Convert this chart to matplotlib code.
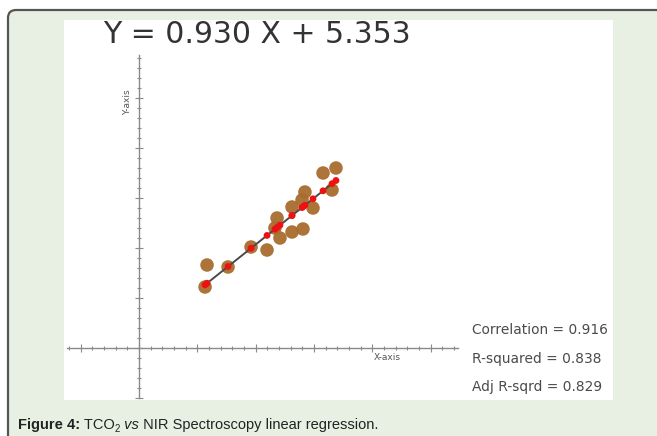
import numpy as np
import matplotlib
matplotlib.use("Agg")
import matplotlib.pyplot as plt
from matplotlib.patches import FancyBboxPatch

# measured points (x = NIR, y = TCO2)
x_vals = [15.66, 15.83, 17.63, 19.60, 20.97, 21.83, 21.65, 22.08, 23.11,
          23.11, 24.05, 24.22, 23.97, 24.91, 25.77, 26.88, 26.54]
y_vals = [19.7, 21.9, 21.7, 23.7, 23.4, 26.6, 25.6, 24.6, 25.2,
          27.7, 25.5, 29.2, 28.4, 27.6, 31.1, 31.6, 29.4]
slope = 0.930
intercept = 5.353
stats_labels = ["Correlation = 0.916", "R-squared = 0.838", "Adj R-sqrd = 0.829"]
# (text, weight, style, subscript?)
caption_parts = [("Figure 4:", "bold", "normal", False),
                 (" TCO", "normal", "normal", False),
                 ("2", "normal", "normal", True),
                 (" vs", "normal", "italic", False),
                 (" NIR Spectroscopy linear regression.", "normal", "normal", False)]

W, H = 657, 436
fig = plt.figure(figsize=(W / 100, H / 100), dpi=100)
fig.patch.set_facecolor("white")


def fx(px):
    return px / W


def fy(py):
    return 1 - py / H


# background frame in pixel coords
bg = fig.add_axes([0, 0, 1, 1])
bg.set_xlim(0, W)
bg.set_ylim(H, 0)
bg.axis("off")
bg.add_patch(FancyBboxPatch((8, 10), 700, 500, boxstyle="round,pad=0,rounding_size=8",
                            facecolor="#e7f0e3", edgecolor="#555555", lw=1.6))

# chart panel
x0, y0 = 10.0, 13.6          # where the drawn axes cross
xs, ys = 11.67, 10.0         # pixels per unit
ax = fig.add_axes([fx(64), fy(400), fx(613) - fx(64), (400 - 20) / H])
ax.set_facecolor("white")
ax.set_xlim(x0 + (64 - 139) / xs, x0 + (613 - 139) / xs)
ax.set_ylim(y0 - (400 - 348) / ys, y0 + (348 - 20) / ys)

for s in ["top", "right"]:
    ax.spines[s].set_visible(False)
ax.spines["left"].set_position(("data", x0))
ax.spines["bottom"].set_position(("data", y0))
ax.spines["left"].set_bounds(y0 - 5.0, y0 + 29.3)
ax.spines["bottom"].set_bounds(x0 - 6.2, x0 + 27.3)
for s in ["left", "bottom"]:
    ax.spines[s].set_color("#8a8a8a")
    ax.spines[s].set_linewidth(1.0)

ax.set_xticks([x0 + k for k in range(-5, 26, 5)])
ax.set_xticks([x0 + k for k in range(-6, 28)], minor=True)
ax.set_yticks([y0 + k for k in range(-5, 30, 5)])
ax.set_yticks([y0 + k for k in range(-5, 30)], minor=True)
ax.tick_params(which="both", direction="inout", colors="#8a8a8a",
               labelbottom=False, labelleft=False, width=0.8)
ax.tick_params(which="major", length=6)
ax.tick_params(which="minor", length=3.5)

x = np.array(x_vals)
y = np.array(y_vals)
order = np.argsort(x)
y_hat = slope * x + intercept
ax.scatter(x, y, s=95, color="#a86c2e", alpha=0.95, edgecolors="none", zorder=3)
ax.plot(x[order], y_hat[order], color="#4a4a4a", lw=1.4, zorder=4)
ax.scatter(x, y_hat, s=24, color="#ee1111", edgecolors="none", zorder=5)

# texts
fig.text(fx(257), fy(43), f"Y = {slope:.3f} X + {intercept:.3f}", ha="center",
         va="baseline", fontsize=21.5, family="DejaVu Sans", color="#333333")
fig.text(fx(128), fy(102), "Y-axis", rotation=90, ha="center", va="center",
         fontsize=6.5, color="#555555")
fig.text(fx(387), fy(357), "X-axis", ha="center", va="center",
         fontsize=6.5, color="#555555")
for lbl, by in zip(stats_labels, [334, 363, 391]):
    fig.text(fx(472), fy(by), lbl, ha="left", va="baseline", fontsize=9.9,
             color="#4a4a4a", family="DejaVu Sans")

# caption built piece by piece
renderer = fig.canvas.get_renderer()
cx = 18
for txt, wt, st, sub in caption_parts:
    t = fig.text(fx(cx), fy(429 + (3 if sub else 0)), txt, ha="left", va="baseline",
                 fontsize=7 if sub else 10.5, weight=wt, style=st,
                 color="#222222", family="Liberation Sans")
    cx += t.get_window_extent(renderer).width

fig.savefig("out.png", dpi=100)
